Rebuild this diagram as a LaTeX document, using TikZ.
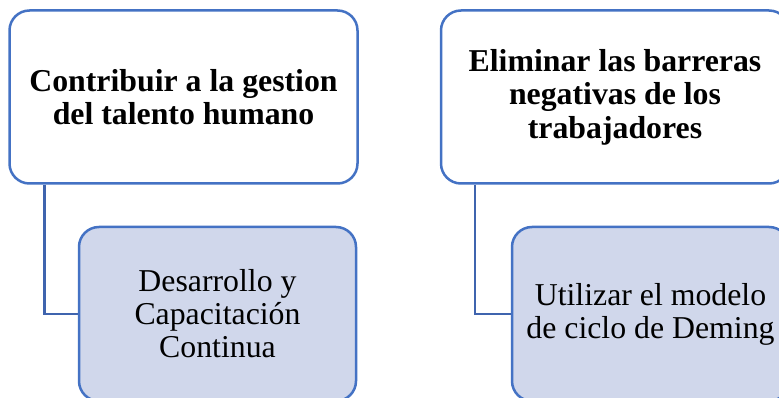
\documentclass[tikz,border=0pt]{standalone}
\usepackage{fontspec}
\setmainfont{Liberation Serif}
\definecolor{bordblue}{HTML}{4472C4}
\definecolor{linkblue}{HTML}{3F64AE}
\definecolor{childfill}{HTML}{D0D7EB}
\tikzset{
  parentbox/.style={draw=bordblue, line width=2.5pt, fill=white, rounded corners=20pt,
    minimum width=348pt, minimum height=173pt, inner sep=0pt, align=center,
    font=\fontsize{31.8}{33.5}\selectfont\bfseries},
  childbox/.style={draw=bordblue, line width=2.5pt, fill=childfill, rounded corners=20pt,
    minimum width=277pt, minimum height=174pt, inner sep=0pt, align=center,
    font=\fontsize{31.8}{33}\selectfont},
  link/.style={draw=linkblue, line width=2.5pt}
}
\begin{document}
\begin{tikzpicture}[x=1pt,y=1pt]
\useasboundingbox (0,0) rectangle (779,-398);
\clip (0,0) rectangle (779,-398);
\fill[white] (0,0) rectangle (779,-398);
\node[parentbox] (p1) at (183.5,-97) {Contribuir a la gestion\\del talento humano};
\node[parentbox] (p2) at (615,-97) {Eliminar las barreras\\negativas de los\\trabajadores};
\node[childbox] (c1) at (217.5,-314) {Desarrollo y\\Capacitación\\Continua};
\node[childbox] (c2) at (650.5,-314) {Utilizar el modelo\\de ciclo de Deming};
\coordinate (s1) at ([xshift=36pt]p1.south west);
\coordinate (s2) at ([xshift=35pt]p2.south west);
\draw[link] (s1) |- (c1.west);
\draw[link] (s2) |- (c2.west);
\end{tikzpicture}
\end{document}
